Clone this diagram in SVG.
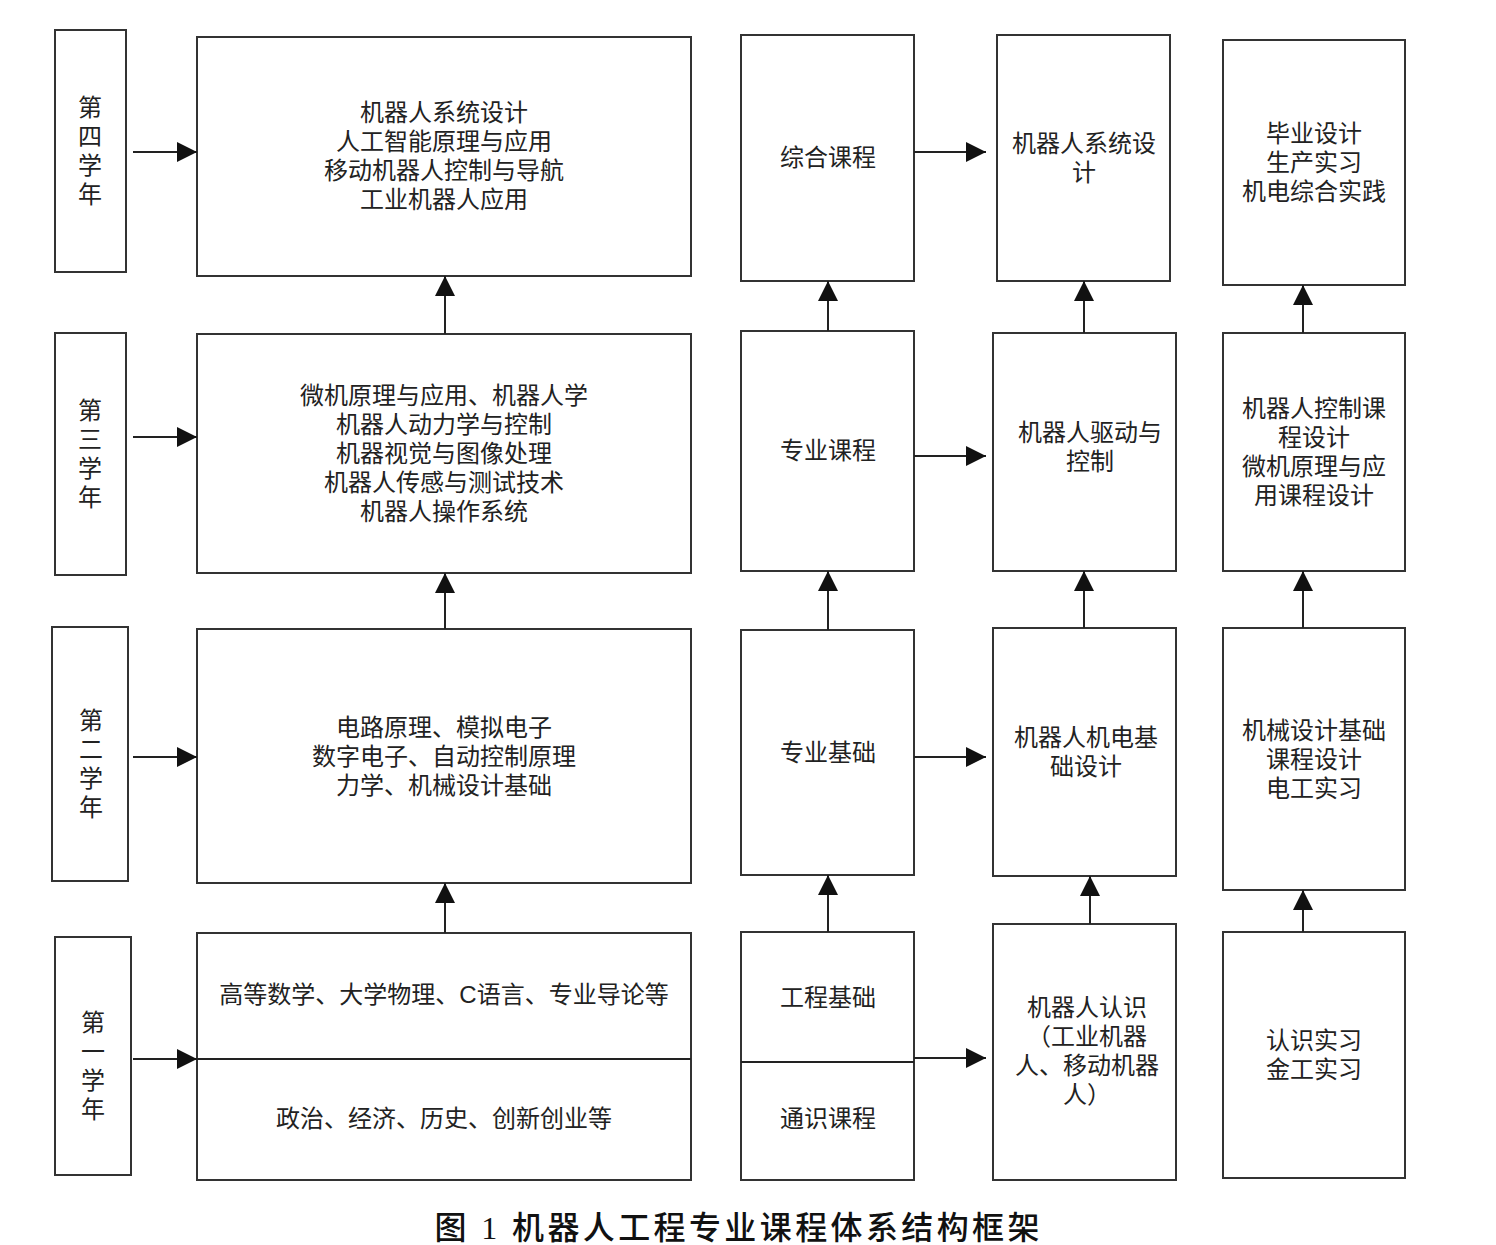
<svg xmlns="http://www.w3.org/2000/svg" width="1496" height="1245" viewBox="0 0 1496 1245">
<style>
.b{fill:#fff;stroke:#333;stroke-width:2}
.c{stroke:#222;stroke-width:2;fill:none}
text{font-family:"Liberation Sans","Noto Sans CJK SC",sans-serif;font-size:24px;fill:#222;text-anchor:middle;dominant-baseline:central}
.cap{font-family:"Liberation Serif","Noto Sans CJK SC",serif;font-size:32px;fill:#111;font-weight:500}
</style>
<defs>
<marker id="ah" markerWidth="20" markerHeight="20" refX="20" refY="10" orient="auto" markerUnits="userSpaceOnUse">
<path d="M0,0 L20,10 L0,20 Z" fill="#111"/>
</marker>
</defs>
<rect width="1496" height="1245" fill="#fff"/>

<g id="year4"><rect class="b" x="55" y="30" width="71" height="242"/><text x="90" y="107"><tspan x="90">第</tspan><tspan x="90" dy="29">四</tspan><tspan x="90" dy="29">学</tspan><tspan x="90" dy="29">年</tspan></text></g>
<g id="year3"><rect class="b" x="55" y="333" width="71" height="242"/><text x="90" y="410"><tspan x="90">第</tspan><tspan x="90" dy="29">三</tspan><tspan x="90" dy="29">学</tspan><tspan x="90" dy="29">年</tspan></text></g>
<g id="year2"><rect class="b" x="52" y="627" width="76" height="254"/><text x="91" y="720"><tspan x="91">第</tspan><tspan x="91" dy="29">二</tspan><tspan x="91" dy="29">学</tspan><tspan x="91" dy="29">年</tspan></text></g>
<g id="year1"><rect class="b" x="55" y="937" width="76" height="238"/><text x="93" y="1022"><tspan x="93">第</tspan><tspan x="93" dy="29">一</tspan><tspan x="93" dy="29">学</tspan><tspan x="93" dy="29">年</tspan></text></g>

<g id="main4"><rect class="b" x="197" y="37" width="494" height="239"/><text x="444" y="112"><tspan x="444">机器人系统设计</tspan><tspan x="444" dy="29">人工智能原理与应用</tspan><tspan x="444" dy="29">移动机器人控制与导航</tspan><tspan x="444" dy="29">工业机器人应用</tspan></text></g>
<g id="main3"><rect class="b" x="197" y="334" width="494" height="239"/><text x="444" y="395"><tspan x="444">微机原理与应用、机器人学</tspan><tspan x="444" dy="29">机器人动力学与控制</tspan><tspan x="444" dy="29">机器视觉与图像处理</tspan><tspan x="444" dy="29">机器人传感与测试技术</tspan><tspan x="444" dy="29">机器人操作系统</tspan></text></g>
<g id="main2"><rect class="b" x="197" y="629" width="494" height="254"/><text x="444" y="727"><tspan x="444">电路原理、模拟电子</tspan><tspan x="444" dy="29">数字电子、自动控制原理</tspan><tspan x="444" dy="29">力学、机械设计基础</tspan></text></g>
<g id="main1"><rect class="b" x="197" y="933" width="494" height="247"/><line class="c" x1="197" y1="1059" x2="691" y2="1059"/><text x="444" y="994">高等数学、大学物理、C语言、专业导论等</text><text x="444" y="1118">政治、经济、历史、创新创业等</text></g>

<g id="c2r4"><rect class="b" x="741" y="35" width="173" height="246"/><text x="828" y="157">综合课程</text></g>
<g id="c2r3"><rect class="b" x="741" y="331" width="173" height="240"/><text x="828" y="450">专业课程</text></g>
<g id="c2r2"><rect class="b" x="741" y="630" width="173" height="245"/><text x="828" y="752">专业基础</text></g>
<g id="c2r1"><rect class="b" x="741" y="932" width="173" height="248"/><line class="c" x1="741" y1="1062" x2="914" y2="1062"/><text x="828" y="997">工程基础</text><text x="828" y="1118">通识课程</text></g>

<g id="c3r4"><rect class="b" x="997" y="35" width="173" height="246"/><text x="1084" y="143"><tspan x="1084">机器人系统设</tspan><tspan x="1084" dy="29">计</tspan></text></g>
<g id="c3r3"><rect class="b" x="993" y="333" width="183" height="238"/><text x="1090" y="432"><tspan x="1090">机器人驱动与</tspan><tspan x="1090" dy="29">控制</tspan></text></g>
<g id="c3r2"><rect class="b" x="993" y="628" width="183" height="248"/><text x="1086" y="737"><tspan x="1086">机器人机电基</tspan><tspan x="1086" dy="29">础设计</tspan></text></g>
<g id="c3r1"><rect class="b" x="993" y="924" width="183" height="256"/><text x="1087" y="1007"><tspan x="1087">机器人认识</tspan><tspan x="1087" dy="29">（工业机器</tspan><tspan x="1087" dy="29">人、移动机器</tspan><tspan x="1087" dy="29">人）</tspan></text></g>

<g id="c4r4"><rect class="b" x="1223" y="40" width="182" height="245"/><text x="1314" y="133"><tspan x="1314">毕业设计</tspan><tspan x="1314" dy="29">生产实习</tspan><tspan x="1314" dy="29">机电综合实践</tspan></text></g>
<g id="c4r3"><rect class="b" x="1223" y="333" width="182" height="238"/><text x="1314" y="408"><tspan x="1314">机器人控制课</tspan><tspan x="1314" dy="29">程设计</tspan><tspan x="1314" dy="29">微机原理与应</tspan><tspan x="1314" dy="29">用课程设计</tspan></text></g>
<g id="c4r2"><rect class="b" x="1223" y="628" width="182" height="262"/><text x="1314" y="730"><tspan x="1314">机械设计基础</tspan><tspan x="1314" dy="29">课程设计</tspan><tspan x="1314" dy="29">电工实习</tspan></text></g>
<g id="c4r1"><rect class="b" x="1223" y="932" width="182" height="246"/><text x="1314" y="1040"><tspan x="1314">认识实习</tspan><tspan x="1314" dy="29">金工实习</tspan></text></g>

<g id="connectors">
<line class="c" x1="133" y1="152" x2="197" y2="152" marker-end="url(#ah)"/>
<line class="c" x1="133" y1="437" x2="197" y2="437" marker-end="url(#ah)"/>
<line class="c" x1="133" y1="757" x2="197" y2="757" marker-end="url(#ah)"/>
<line class="c" x1="133" y1="1059" x2="197" y2="1059" marker-end="url(#ah)"/>
<line class="c" x1="445" y1="334" x2="445" y2="276" marker-end="url(#ah)"/>
<line class="c" x1="445" y1="629" x2="445" y2="573" marker-end="url(#ah)"/>
<line class="c" x1="445" y1="933" x2="445" y2="883" marker-end="url(#ah)"/>
<line class="c" x1="828" y1="331" x2="828" y2="281" marker-end="url(#ah)"/>
<line class="c" x1="828" y1="630" x2="828" y2="571" marker-end="url(#ah)"/>
<line class="c" x1="828" y1="932" x2="828" y2="875" marker-end="url(#ah)"/>
<line class="c" x1="1084" y1="333" x2="1084" y2="281" marker-end="url(#ah)"/>
<line class="c" x1="1084" y1="628" x2="1084" y2="571" marker-end="url(#ah)"/>
<line class="c" x1="1090" y1="924" x2="1090" y2="876" marker-end="url(#ah)"/>
<line class="c" x1="1303" y1="333" x2="1303" y2="285" marker-end="url(#ah)"/>
<line class="c" x1="1303" y1="628" x2="1303" y2="571" marker-end="url(#ah)"/>
<line class="c" x1="1303" y1="932" x2="1303" y2="890" marker-end="url(#ah)"/>
<line class="c" x1="914" y1="152" x2="986" y2="152" marker-end="url(#ah)"/>
<line class="c" x1="914" y1="456" x2="986" y2="456" marker-end="url(#ah)"/>
<line class="c" x1="914" y1="757" x2="986" y2="757" marker-end="url(#ah)"/>
<line class="c" x1="914" y1="1058" x2="986" y2="1058" marker-end="url(#ah)"/>
</g>

<text class="cap" x="737" y="1228" textLength="605" lengthAdjust="spacing">图 1 机器人工程专业课程体系结构框架</text>
</svg>
